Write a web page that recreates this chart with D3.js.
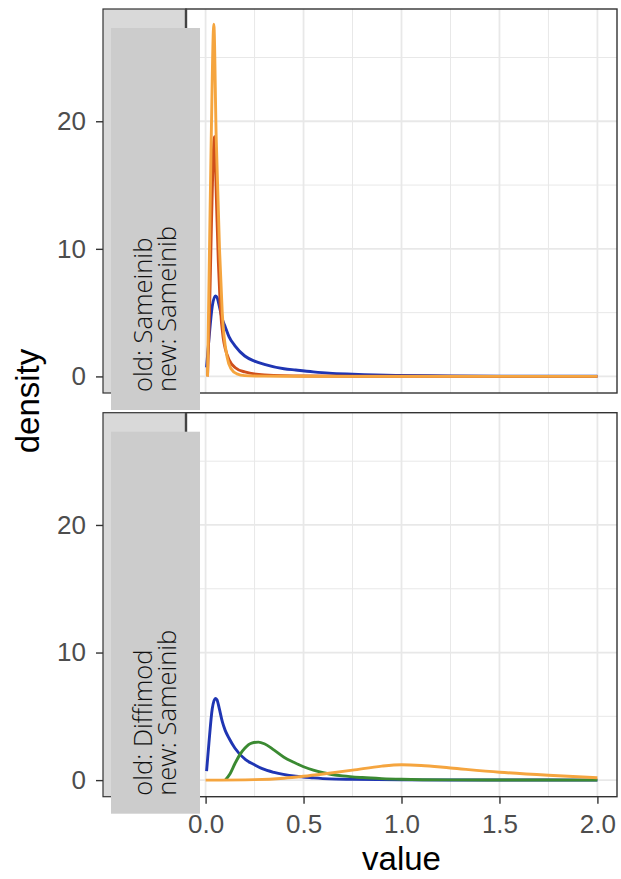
<!DOCTYPE html>
<html lang="en">
<head>
<meta charset="UTF-8">
<title>Density facets</title>
<script src="https://d3js.org/d3.v7.min.js"></script>
<style>
    body { margin: 0; background: #fff; }
    .tick text { font-family: "Liberation Sans", Arial, sans-serif; font-size: 26px; fill: #4d4d4d; }
    .tick line { stroke: #333; stroke-width: 1.4; }
    .domain { display: none; }
    .grid { stroke: #e8e8e8; }
    .curve { fill: none; stroke-width: 2.9; stroke-linejoin: round; }
</style>
</head>
<body>
<svg width="621" height="879"></svg>
<script>

var blueTopX = [0.005, 0.017, 0.034, 0.05, 0.058, 0.07, 0.085, 0.1, 0.12, 0.15, 0.2, 0.25, 0.3, 0.4, 0.46, 0.55, 0.63, 0.75, 0.97, 1.25, 1.5, 1.75, 2.0];
var blueTopY = [0.7, 2.9, 5.5, 6.3, 6.2, 5.5, 4.5, 3.9, 3.1, 2.4, 1.6, 1.2, 0.95, 0.6, 0.5, 0.36, 0.26, 0.18, 0.08, 0.04, 0.02, 0.01, 0.01];

var redTopX = [0.01, 0.02, 0.03, 0.045, 0.055, 0.065, 0.075, 0.09, 0.1, 0.12, 0.15, 0.2, 0.3, 0.5, 1.0, 2.0];
var redTopY = [0.0, 5.0, 12.0, 18.8, 14.0, 9.0, 5.5, 3.0, 2.2, 1.3, 0.7, 0.35, 0.12, 0.03, 0.01, 0.0];

var orangeTopX = [0.01, 0.02, 0.029, 0.042, 0.054, 0.071, 0.085, 0.11, 0.13, 0.16, 0.2, 0.3, 0.5, 1.0, 2.0];
var orangeTopY = [0.0, 10.0, 18.8, 27.6, 18.8, 10.0, 5.0, 1.5, 0.6, 0.2, 0.06, 0.02, 0.01, 0.0, 0.0];

var blueBotX = [0.005, 0.017, 0.034, 0.05, 0.058, 0.07, 0.085, 0.1, 0.119, 0.15, 0.204, 0.25, 0.289, 0.35, 0.46, 0.55, 0.63, 0.75, 1.0, 1.5, 2.0];
var blueBotY = [0.7, 2.9, 5.6, 6.4, 6.3, 5.6, 4.6, 3.9, 3.3, 2.5, 1.6, 1.2, 0.9, 0.6, 0.3, 0.18, 0.1, 0.06, 0.02, 0.01, 0.0];

var greenBotX = [0.1, 0.125, 0.15, 0.175, 0.2, 0.235, 0.27, 0.3, 0.35, 0.4, 0.45, 0.5, 0.55, 0.6, 0.7, 0.8, 0.9, 1.0, 1.25, 1.5, 2.0];
var greenBotY = [0.0, 0.5, 1.3, 2.0, 2.5, 2.9, 2.98, 2.85, 2.35, 1.8, 1.4, 1.05, 0.78, 0.58, 0.33, 0.2, 0.12, 0.07, 0.02, 0.01, 0.0];

var orangeBotX = [0.0, 0.25, 0.4, 0.5, 0.6, 0.75, 0.9, 1.0, 1.1, 1.25, 1.5, 1.75, 2.0];
var orangeBotY = [0.0, 0.04, 0.15, 0.3, 0.48, 0.78, 1.1, 1.2, 1.15, 0.95, 0.62, 0.38, 0.19];

var xTicks = [0, 0.5, 1, 1.5, 2];
var xTickLabels = ["0.0", "0.5", "1.0", "1.5", "2.0"];
var xMinor = [0.25, 0.75, 1.25, 1.75];
var yTicks = [0, 10, 20];
var yMinor = [5, 15, 25];

var panelLabels = [["old: Sameinib", "new: Sameinib"], ["old: Diffimod", "new: Sameinib"]];

function pts(xs, ys) { return xs.map(function (x, i) { return [x, ys[i]]; }); }

var panels = [
    { top: 9, bottom: 393, labels: panelLabels[0], series: [
        { data: pts(blueTopX, blueTopY), color: "#1f35b3" },
        { data: pts(redTopX, redTopY), color: "#cf4f1b" },
        { data: pts(orangeTopX, orangeTopY), color: "#f5a53f" }
    ]},
    { top: 412.7, bottom: 796.7, labels: panelLabels[1], series: [
        { data: pts(blueBotX, blueBotY), color: "#1f35b3" },
        { data: pts(greenBotX, greenBotY), color: "#3b8a32" },
        { data: pts(orangeBotX, orangeBotY), color: "#f5a53f" }
    ]}
];

var svg = d3.select("svg");
var stripLeft = 103, panelLeft = 186, panelRight = 617;

var x = d3.scaleLinear().domain([-0.1, 2.1]).range([panelLeft, panelRight]);

panels.forEach(function (p, pi) {
    var y = d3.scaleLinear().domain([-1.3, 28.8]).range([p.bottom, p.top]);
    var g = svg.append("g");

    // strip on the left
    g.append("rect")
        .attr("x", stripLeft).attr("y", p.top)
        .attr("width", panelLeft - stripLeft).attr("height", p.bottom - p.top)
        .attr("fill", "#d9d9d9").attr("stroke", "#333").attr("stroke-width", 1.2);

    // grid
    g.selectAll(".gxm").data(xMinor).enter().append("line").attr("class", "grid")
        .attr("x1", x).attr("x2", x).attr("y1", p.top).attr("y2", p.bottom).attr("stroke-width", 1);
    g.selectAll(".gym").data(yMinor).enter().append("line").attr("class", "grid")
        .attr("x1", panelLeft).attr("x2", panelRight).attr("y1", y).attr("y2", y).attr("stroke-width", 1);
    g.selectAll(".gx").data(xTicks).enter().append("line").attr("class", "grid")
        .attr("x1", x).attr("x2", x).attr("y1", p.top).attr("y2", p.bottom).attr("stroke-width", 1.8);
    g.selectAll(".gy").data(yTicks).enter().append("line").attr("class", "grid")
        .attr("x1", panelLeft).attr("x2", panelRight).attr("y1", y).attr("y2", y).attr("stroke-width", 1.8);

    var line = d3.line()
        .x(function (d) { return x(d[0]); })
        .y(function (d) { return y(d[1]); })
        .curve(d3.curveMonotoneX);

    p.series.forEach(function (s) {
        g.append("path").attr("class", "curve")
            .attr("d", line(s.data)).attr("stroke", s.color);
    });

    // panel border
    g.append("rect")
        .attr("x", panelLeft).attr("y", p.top)
        .attr("width", panelRight - panelLeft).attr("height", p.bottom - p.top)
        .attr("fill", "none").attr("stroke", "#333").attr("stroke-width", 1.4);
    g.append("line")
        .attr("x1", panelLeft).attr("x2", panelLeft).attr("y1", p.top).attr("y2", p.bottom)
        .attr("stroke", "#444").attr("stroke-width", 2.4);

    // y axis
    g.append("g")
        .attr("transform", "translate(" + stripLeft + ",0)")
        .call(d3.axisLeft(y).tickValues(yTicks).tickSize(7).tickPadding(10));

    // grey label box over the strip
    g.append("rect")
        .attr("x", 111).attr("y", p.top + 19)
        .attr("width", 89).attr("height", 382)
        .attr("fill", "#cccccc");
    var t = g.append("text")
        .attr("transform", "translate(152," + (p.bottom - 1) + ") rotate(-90)")
        .style("font-family", "'Open Sans', sans-serif")
        .style("font-weight", 300)
        .style("font-size", "25.5px")
        .attr("fill", "#111");
    t.append("tspan").attr("x", 0).attr("y", 0).text(p.labels[0]);
    t.append("tspan").attr("x", 0).attr("y", 23.5).text(p.labels[1]);

    if (pi === panels.length - 1) {
        g.append("g")
            .attr("transform", "translate(0," + p.bottom + ")")
            .call(d3.axisBottom(x).tickValues(xTicks).tickSize(7).tickPadding(11)
                .tickFormat(function (d, i) { return xTickLabels[i]; }));
    }
});

svg.append("text")
    .attr("x", (panelLeft + panelRight) / 2).attr("y", 870)
    .attr("text-anchor", "middle")
    .style("font-family", "'Liberation Sans', Arial, sans-serif")
    .style("font-size", "33px")
    .text("value");

svg.append("text")
    .attr("transform", "translate(39,401) rotate(-90)")
    .attr("text-anchor", "middle")
    .style("font-family", "'Liberation Sans', Arial, sans-serif")
    .style("font-size", "33px")
    .text("density");

</script>
</body>
</html>
